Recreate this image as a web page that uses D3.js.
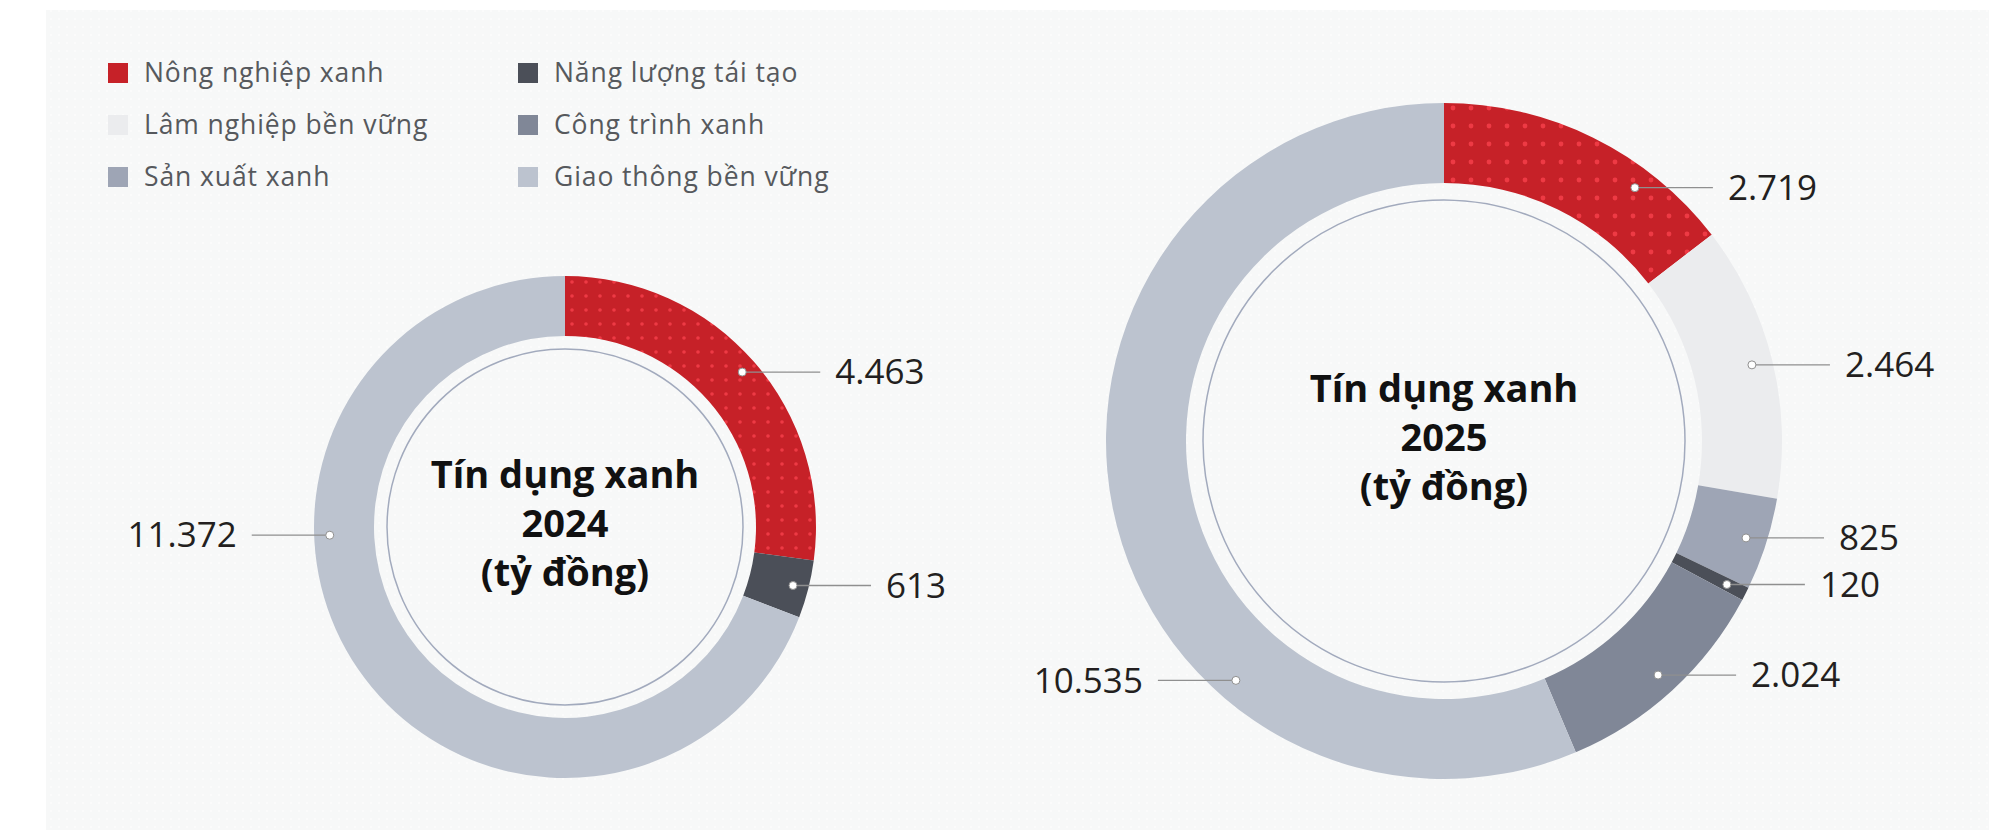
<!DOCTYPE html>
<html>
<head>
<meta charset="utf-8">
<script src="https://cdn.jsdelivr.net/npm/d3@7"></script>
<style>
  body { margin: 0; background: #fff; }
  svg { display: block; font-family: "Open Sans", Lato, sans-serif; }
</style>
</head>
<body>
<svg id="chart" width="2010" height="830"></svg>
<script>
// categories in legend / slice order
const categories = [
  "Nông nghiệp xanh",
  "Lâm nghiệp bền vững",
  "Sản xuất xanh",
  "Năng lượng tái tạo",
  "Công trình xanh",
  "Giao thông bền vững"
];
const values2024 = [4463, 0, 0, 613, 0, 11372];
const values2025 = [2719, 2464, 825, 120, 2024, 10535];
const titleLines2024 = ["Tín dụng xanh", "2024", "(tỷ đồng)"];
const titleLines2025 = ["Tín dụng xanh", "2025", "(tỷ đồng)"];

const colors = ["#c62128", "#ebecee", "#9ea5b5", "#4b4f58", "#808797", "#bcc3cf"];

const svg = d3.select("#chart");
const defs = svg.append("defs");

// background dotted panel
const bgPat = defs.append("pattern")
  .attr("id", "bgdots")
  .attr("patternUnits", "userSpaceOnUse")
  .attr("width", 8).attr("height", 8);
bgPat.append("rect").attr("width", 8).attr("height", 8).attr("fill", "#f7f8f8");
bgPat.append("circle").attr("cx", 3).attr("cy", 3).attr("r", 1).attr("fill", "#fdfdfd");

svg.append("rect")
  .attr("x", 46).attr("y", 10)
  .attr("width", 1943).attr("height", 820)
  .attr("fill", "url(#bgdots)");

// Legend
const legend = svg.append("g");
categories.forEach((c, i) => {
  const col = Math.floor(i / 3), row = i % 3;
  const g = legend.append("g")
    .attr("transform", `translate(${108 + col * 410}, ${63 + row * 52})`);
  g.append("rect").attr("width", 20).attr("height", 20).attr("fill", colors[i]);
  g.append("text")
    .attr("x", 36).attr("y", 10).attr("dy", "0.35em")
    .style("font-size", "26.5px")
    .style("letter-spacing", "0.9px")
    .style("fill", "#56595d")
    .text(c);
});

const fmt = d3.formatLocale({ decimal: ",", thousands: ".", grouping: [3], currency: ["", ""] }).format(",d");

const charts = [
  { year: "2024", values: values2024, title: titleLines2024, cx: 565, cy: 527, outer: 251, inner: 191, ring: 178, dot: 14, dotR: 1.8 },
  { year: "2025", values: values2025, title: titleLines2025, cx: 1444, cy: 441, outer: 338, inner: 258, ring: 241, dot: 18, dotR: 2.4 }
];

// a few label anchors nudged by hand (degrees clockwise from top)
const labelAngleOverride = {
  "2024": { "Giao thông bền vững": 268 },
  "2025": { "Nông nghiệp xanh": 37, "Giao thông bền vững": 221 }
};

const pie = d3.pie().sort(null).value(d => d.value);

charts.forEach(ch => {
  const data = categories.map((c, i) => ({ cat: c, idx: i, value: ch.values[i] }))
    .filter(d => d.value > 0);

  // red dotted fill
  const pat = defs.append("pattern")
    .attr("id", "reddots" + ch.year)
    .attr("patternUnits", "userSpaceOnUse")
    .attr("width", ch.dot).attr("height", ch.dot);
  pat.append("rect").attr("width", ch.dot).attr("height", ch.dot).attr("fill", colors[0]);
  pat.append("circle")
    .attr("cx", ch.dot / 2).attr("cy", ch.dot / 2)
    .attr("r", ch.dotR).attr("fill", "#ee3a44");

  const g = svg.append("g").attr("transform", `translate(${ch.cx},${ch.cy})`);

  const arc = d3.arc().innerRadius(ch.inner).outerRadius(ch.outer);

  g.selectAll("path")
    .data(pie(data))
    .enter()
    .append("path")
    .attr("d", arc)
    .attr("fill", d => d.data.idx === 0 ? `url(#reddots${ch.year})` : colors[d.data.idx]);

  // thin inner ring
  g.append("circle")
    .attr("r", ch.ring)
    .attr("fill", "none")
    .attr("stroke", "#a2aabd")
    .attr("stroke-width", 1.5);

  // center title
  const title = g.append("text")
    .attr("text-anchor", "middle")
    .style("font-size", "38px")
    .style("font-weight", "bold")
    .style("fill", "#111");
  ch.title.forEach((t, i) => {
    title.append("tspan").attr("x", 0).attr("y", -39 + i * 49).text(t);
  });

  // value labels
  const labelR = ch.inner + 0.74 * (ch.outer - ch.inner);
  const over = labelAngleOverride[ch.year] || {};
  pie(data).forEach(d => {
    const deg = over[d.data.cat] != null ? over[d.data.cat] : (d.startAngle + d.endAngle) / 2 * 180 / Math.PI;
    const a = deg * Math.PI / 180;
    const x = labelR * Math.sin(a), y = -labelR * Math.cos(a);
    const side = x >= 0 ? 1 : -1;
    const x2 = x + side * 78;

    g.append("line")
      .attr("x1", x).attr("y1", y).attr("x2", x2).attr("y2", y)
      .attr("stroke", "#8f8f8f").attr("stroke-width", 1.3);
    g.append("circle")
      .attr("cx", x).attr("cy", y).attr("r", 4)
      .attr("fill", "#fff").attr("stroke", "#8f8f8f").attr("stroke-width", 1);
    g.append("text")
      .attr("x", x2 + side * 15).attr("y", y).attr("dy", "0.35em")
      .attr("text-anchor", side > 0 ? "start" : "end")
      .style("font-size", "35px")
      .style("fill", "#231f20")
      .text(fmt(d.data.value));
  });
});
</script>
</body>
</html>
